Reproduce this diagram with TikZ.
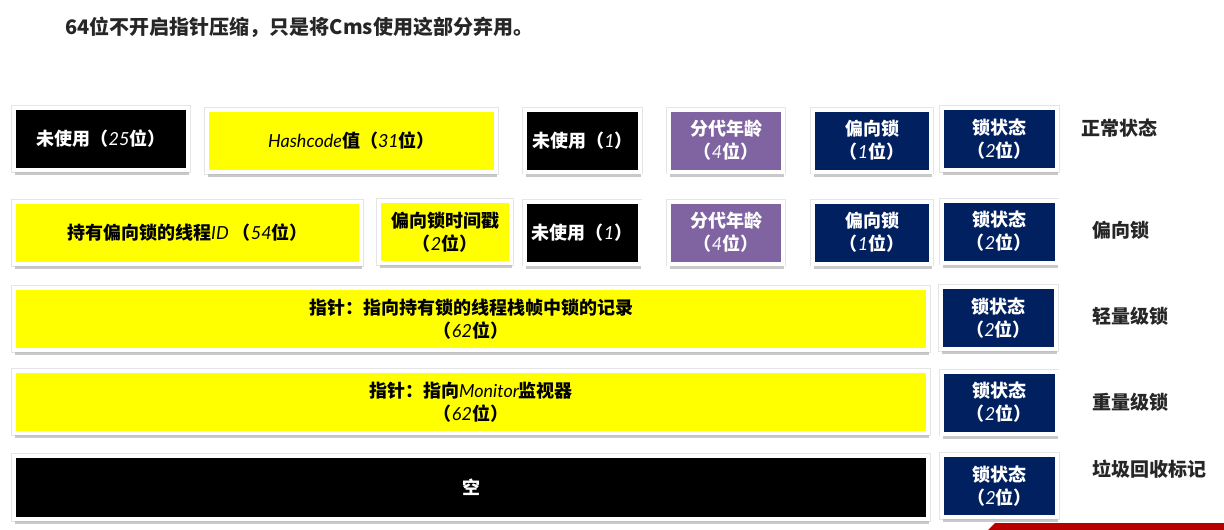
\documentclass[tikz,border=0pt]{standalone}
\usepackage{fontspec}
\setmainfont{Noto Sans CJK SC}
\newfontfamily\handfont{Lato}
\usetikzlibrary{shadows,positioning}
\definecolor{fieldyel}{HTML}{FFFF00}
\definecolor{agepurple}{HTML}{8064A2}
\definecolor{locknavy}{HTML}{002060}
\definecolor{labelgray}{HTML}{262626}
\definecolor{stripred}{HTML}{B80000}
\newcommand\hw[1]{{\handfont\itshape\mdseries #1}}

\begin{document}
\begin{tikzpicture}[x=1pt,y=-1pt,
  field/.style={draw=white, line width=4pt, minimum height=62pt, inner sep=0pt, align=center,
    font=\fontsize{18}{23}\selectfont\bfseries,
    preaction={draw=black!10, line width=5.5pt},
    drop shadow={shadow xshift=1pt, shadow yshift=-5pt, fill=black!30, opacity=.7}},
  unused/.style={field, fill=black, text=white},
  yel/.style={field, fill=fieldyel, text=black},
  age/.style={field, fill=agepurple, text=white, minimum width=114pt},
  flag/.style={field, fill=locknavy, text=white},
  rowname/.style={anchor=west, text=labelgray, font=\fontsize{19}{22}\selectfont\bfseries},
]
\useasboundingbox (0,0) rectangle (1224,530);
% title
\node[anchor=west, text=labelgray, font=\fontsize{20}{24}\selectfont\bfseries] (title) at (62,27)
  {64位不开启指针压缩，只是将Cms使用这部分弃用。};
% row 1: normal
\node[unused, minimum width=174pt] (unusedA) at (101,139) {未使用（\hw{25}位）};
\node[yel, minimum width=289pt] (hash) at (351.5,141) {\hw{Hashcode}值（\hw{31}位）};
\node[unused, minimum width=115pt] (unusedB) at (582.5,140.5) {未使用（\hw{1}）};
\node[age] (ageA) at (726,140.5) {分代年龄\\（\hw{4}位）};
\node[flag, minimum width=118pt] (biasA) at (872,140.5) {偏向锁\\（\hw{1}位）};
\node[flag, minimum width=115pt] (stateA) at (999.5,139) {锁状态\\（\hw{2}位）};
% row 2: biased
\node[yel, minimum width=347pt] (tid) at (187.5,233) {持有偏向锁的线程\hw{ID} （\hw{54}位）};
\node[yel, minimum width=132pt] (stamp) at (445,232) {偏向锁时间戳\\（\hw{2}位）};
\node[unused, minimum width=115pt] (unusedC) at (582,232.5) {未使用（\hw{1}）};
\node[age] (ageB) at (726,232.5) {分代年龄\\（\hw{4}位）};
\node[flag, minimum width=118pt] (biasB) at (872,232.5) {偏向锁\\（\hw{1}位）};
\node[flag, minimum width=115pt] (stateB) at (999,231.5) {锁状态\\（\hw{2}位）};
% row 3: lightweight
\node[yel, minimum width=914pt] (lockrec) at (471,319) {指针：指向持有锁的线程栈帧中锁的记录\\（\hw{62}位）};
\node[flag, minimum width=115pt] (stateC) at (998.5,318) {锁状态\\（\hw{2}位）};
% row 4: heavyweight
\node[yel, minimum width=914pt] (monitor) at (471,402) {指针：指向\hw{Monitor}监视器\\（\hw{62}位）};
\node[flag, minimum width=115pt] (stateD) at (999,402.5) {锁状态\\（\hw{2}位）};
% row 5: gc mark
\node[unused, minimum width=914pt, minimum height=63pt] (empty) at (471,487.5) {空};
\node[flag, minimum width=115pt] (stateE) at (999.5,486) {锁状态\\（\hw{2}位）};
% row names
\node[rowname] (normal) at (1078,128) {正常状态};
\node[rowname] (biased) at (1089,230) {偏向锁};
\node[rowname] (light) at (1089,316) {轻量级锁};
\node[rowname] (heavy) at (1089,402) {重量级锁};
\node[rowname] (gcmark) at (1089,469) {垃圾回收标记};
% cut-off strip at the bottom edge
\fill[stripred] (988,530) -- (995,523) -- (1224,523) -- (1224,530) -- cycle;
\end{tikzpicture}
\end{document}
